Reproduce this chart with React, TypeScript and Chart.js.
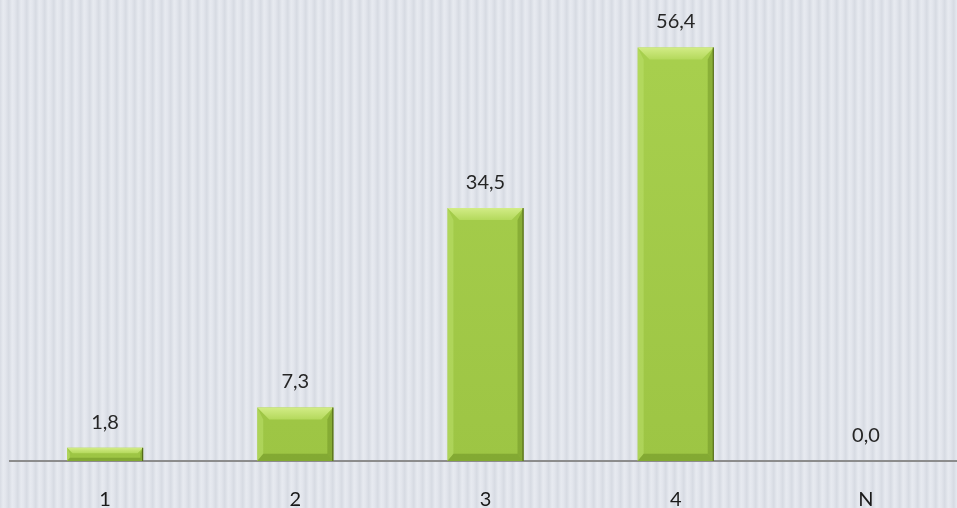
import React, { useEffect, useRef } from "react";
import { Chart, registerables } from "chart.js";

Chart.register(...registerables);

const categories = ["1", "2", "3", "4", "N"];
const values = [1.8, 7.3, 34.5, 56.4, 0.0];
const yMax = 60;

const fmt = (v: number) => v.toFixed(1).replace(".", ",");
const FONT = "Lato, 'Open Sans', sans-serif";

const stripesPlugin = {
  id: "stripes",
  beforeDraw(chart: any) {
    const { ctx, width, height } = chart;
    ctx.save();
    ctx.fillStyle = "#dadee6";
    ctx.fillRect(0, 0, width, height);
    const period = 9;
    for (let x = 0; x < width; x += period) {
      const g = ctx.createLinearGradient(x, 0, x + period, 0);
      g.addColorStop(0, "#d8dce4");
      g.addColorStop(0.35, "#e7eaf0");
      g.addColorStop(0.6, "#e3e6ed");
      g.addColorStop(1, "#d6dae2");
      ctx.fillStyle = g;
      ctx.fillRect(x, 0, period, height);
    }
    ctx.restore();
  },
};

const bevelPlugin = {
  id: "bevel",
  afterDatasetsDraw(chart: any) {
    const { ctx } = chart;
    const meta = chart.getDatasetMeta(0);
    ctx.save();
    meta.data.forEach((bar: any, i: number) => {
      const p = bar.getProps(["x", "y", "base", "width"], true);
      const l = p.x - p.width / 2;
      const r = p.x + p.width / 2;
      const t = Math.min(p.y, p.base);
      const bot = Math.max(p.y, p.base);
      const h = bot - t;
      if (h > 0.5) {
        const b = Math.min(12, h / 2.4);
        const gt = ctx.createLinearGradient(0, t, 0, t + b);
        gt.addColorStop(0, "#d2ec86");
        gt.addColorStop(1, "#b4d95c");
        ctx.fillStyle = gt;
        ctx.beginPath();
        ctx.moveTo(l, t);
        ctx.lineTo(r, t);
        ctx.lineTo(r - b, t + b);
        ctx.lineTo(l + b, t + b);
        ctx.closePath();
        ctx.fill();
        ctx.fillStyle = "rgba(190,225,110,0.5)";
        ctx.beginPath();
        ctx.moveTo(l, t);
        ctx.lineTo(l + b * 0.5, t + b);
        ctx.lineTo(l + b * 0.5, bot - b * 0.6);
        ctx.lineTo(l, bot);
        ctx.closePath();
        ctx.fill();
        ctx.fillStyle = "rgba(110,145,35,0.5)";
        ctx.beginPath();
        ctx.moveTo(r, t);
        ctx.lineTo(r - b * 0.5, t + b);
        ctx.lineTo(r - b * 0.5, bot - b * 0.6);
        ctx.lineTo(r, bot);
        ctx.closePath();
        ctx.fill();
        ctx.fillStyle = "rgba(100,135,30,0.45)";
        ctx.beginPath();
        ctx.moveTo(l, bot);
        ctx.lineTo(r, bot);
        ctx.lineTo(r - b * 0.5, bot - b * 0.6);
        ctx.lineTo(l + b * 0.5, bot - b * 0.6);
        ctx.closePath();
        ctx.fill();
        ctx.strokeStyle = "#4d6216";
        ctx.lineWidth = 1;
        ctx.beginPath();
        ctx.moveTo(r - 0.5, t);
        ctx.lineTo(r - 0.5, bot);
        ctx.stroke();
      }
      ctx.fillStyle = "#262626";
      ctx.font = "20px " + FONT;
      ctx.textAlign = "center";
      ctx.textBaseline = "alphabetic";
      ctx.fillText(fmt(values[i]), p.x, t - 19);
    });
    ctx.restore();
  },
};

export default function App() {
  const ref = useRef<HTMLCanvasElement | null>(null);
  useEffect(() => {
    document.body.style.margin = "0";
    document.body.style.overflow = "hidden";
    if (!ref.current) return;
    const chart = new Chart(ref.current, {
      type: "bar",
      data: {
        labels: categories,
        datasets: [
          {
            data: values,
            backgroundColor: (c: any) => {
              const area = c.chart.chartArea;
              if (!area) return "#a4cc4c";
              const g = c.chart.ctx.createLinearGradient(0, area.top, 0, area.bottom);
              g.addColorStop(0, "#a8d04e");
              g.addColorStop(1, "#9dc544");
              return g;
            },
            borderWidth: 0,
            barPercentage: 0.8,
            categoryPercentage: 0.5,
          },
        ],
      },
      options: {
        animation: false,
        responsive: false,
        layout: { padding: { left: 10, right: 0, top: 21, bottom: 0 } },
        plugins: { legend: { display: false }, tooltip: { enabled: false } },
        scales: {
          x: {
            grid: { display: false },
            border: { display: true, color: "#8c8c8c", width: 2 },
            ticks: {
              color: "#1a1a1a",
              padding: 19,
              font: { size: 20, family: FONT },
            },
            afterFit: (scale: any) => {
              scale.height = 47;
            },
          },
          y: { display: false, min: 0, max: yMax },
        },
      },
      plugins: [stripesPlugin, bevelPlugin],
    });
    return () => chart.destroy();
  }, []);
  return (
    <div style={{ position: "absolute", left: 0, top: 0, width: 957, height: 508, overflow: "hidden" }}>
      <canvas ref={ref} width={961} height={508} style={{ display: "block" }} />
    </div>
  );
}
